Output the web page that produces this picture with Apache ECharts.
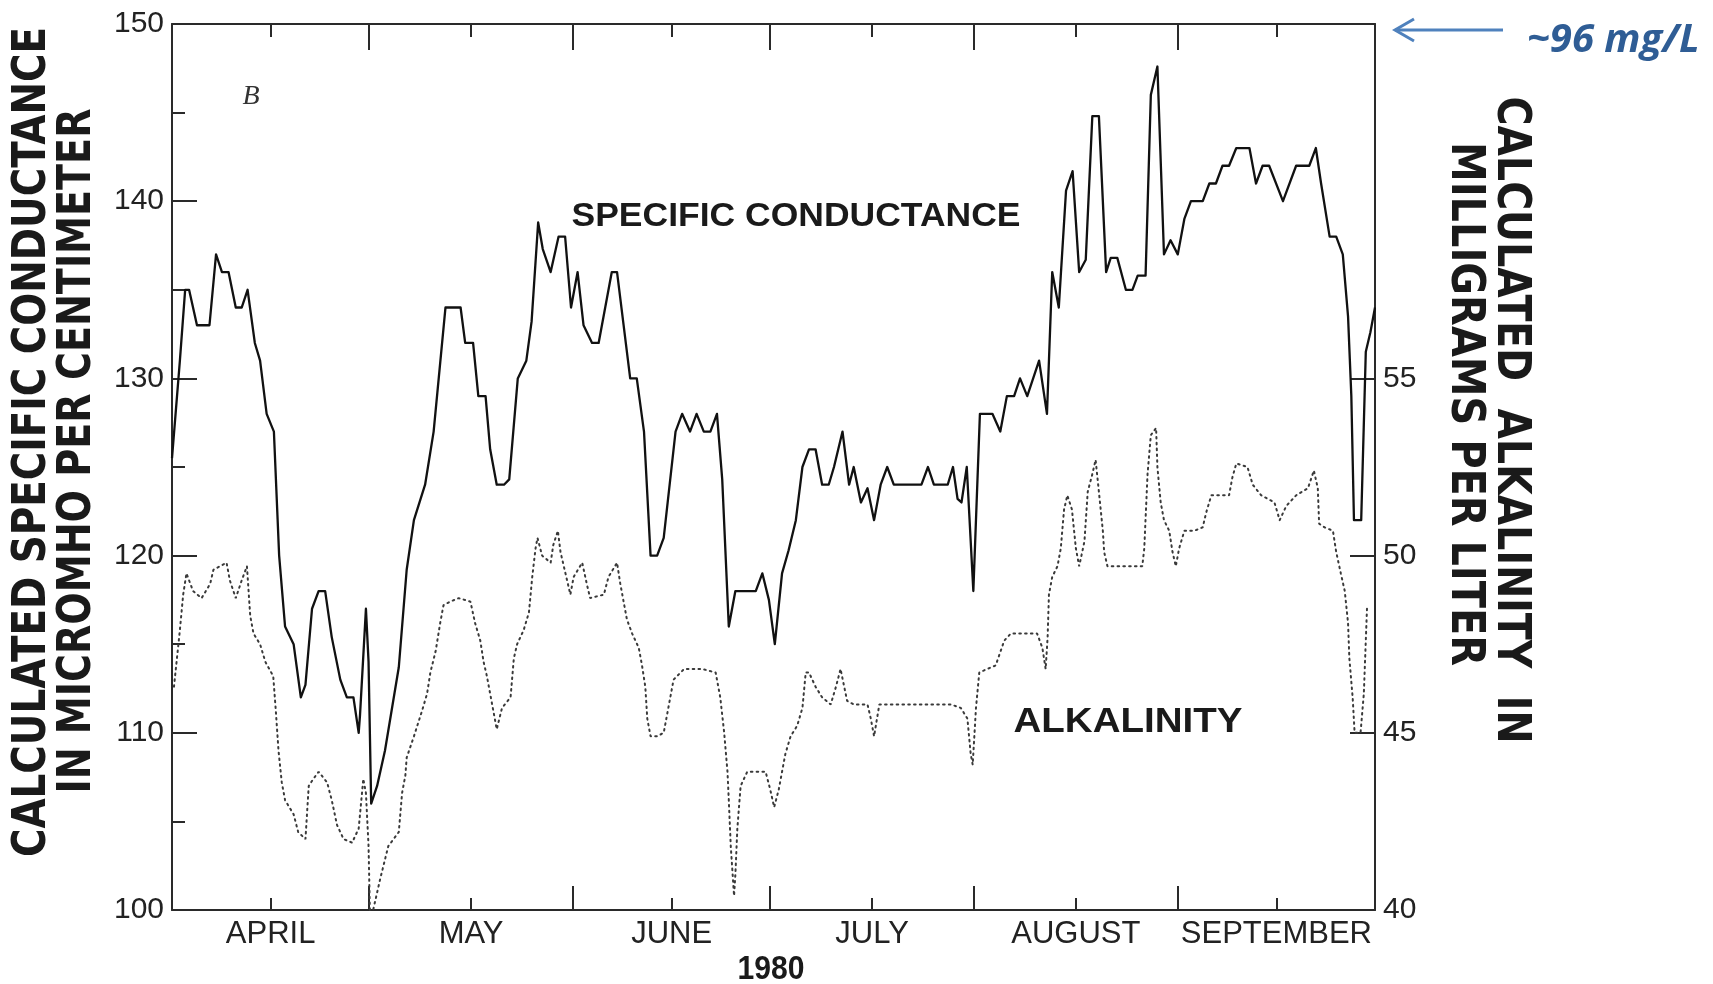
<!DOCTYPE html>
<html>
<head>
<meta charset="utf-8">
<script src="https://cdn.jsdelivr.net/npm/echarts@6/dist/echarts.min.js"></script>
<style>
html,body{margin:0;padding:0;background:#fff;}
#chart{width:1713px;height:984px;}
</style>
</head>
<body>
<div id="chart"></div>
<script>
// x = days since April 1, 1980
const monthNames = ['APRIL', 'MAY', 'JUNE', 'JULY', 'AUGUST', 'SEPTEMBER'];
const monthMid = [15, 45.5, 76, 106.5, 137.5, 168];
const monthBounds = [30, 61, 91, 122, 153];
const leftTicks = [100, 110, 120, 130, 140, 150];
const rightTickLabels = [40, 45, 50, 55];

const condDays = [0, 1.2, 2.0, 2.6, 3.8, 5.7, 6.7, 7.6, 8.6, 9.7, 10.6, 11.5, 12.6, 13.4, 14.4, 15.5, 16.3, 17.2, 18.5, 19.6,
  20.3, 21.3, 22.3, 23.3, 24.3, 25.6, 26.6, 27.6, 28.4, 28.6, 29.5, 29.9, 30.3, 31.2, 32.4, 34.5, 35.7, 36.8, 38.5, 39.8,
  41.6, 43.9, 44.6, 45.8, 46.6, 47.7, 48.4, 49.4, 50.5, 51.3, 52.6, 53.9, 54.7, 55.7, 56.4, 57.6, 58.8, 59.8, 60.7, 61.7,
  62.6, 63.9, 64.9, 66.9, 67.7, 69.7, 70.7, 71.8, 72.8, 73.8, 74.8, 76.6, 77.6, 78.8, 79.8, 80.9, 81.9, 82.9, 83.7, 84.7,
  85.7, 88.8, 89.8, 90.8, 91.7, 92.8, 93.8, 94.9, 95.9, 96.9, 97.9, 98.9, 99.9, 100.7, 102.0, 103.0, 103.7, 104.8, 105.8, 106.8,
  107.8, 108.8, 109.8, 110.9, 114.0, 115.0, 115.9, 118.0, 118.8, 119.5, 120.1, 120.9, 121.9, 122.9, 124.8, 126.0, 127.0, 128.1, 129.0, 130.1,
  131.9, 133.1, 133.9, 134.9, 136.0, 137.0, 138.0, 139.0, 140.0, 141.0, 142.1, 142.8, 143.8, 145.1, 146.1, 146.9, 148.1, 148.9, 149.9, 150.9,
  151.9, 153.0, 154.0, 155.0, 156.8, 157.8, 158.8, 159.8, 160.8, 161.9, 163.9, 164.9, 165.9, 166.9, 169.0, 171.0, 173.0, 174.0, 174.8, 176.1,
  177.1, 178.1, 178.9, 179.4, 179.8, 180.9, 181.6, 182.3, 183];
const condValues = [125.5, 131, 135, 135, 133, 133, 137, 136, 136, 134, 134, 135, 132, 131, 128, 127, 120, 116, 115, 112,
  112.7, 117, 118, 118, 115.4, 113, 112, 112, 110, 111, 117, 114, 106, 107, 109, 113.7, 119.2, 122, 124, 127,
  134, 134, 132, 132, 129, 129, 126, 124, 124, 124.3, 130, 131, 133.2, 138.8, 137.3, 136, 138, 138, 134, 136,
  133, 132, 132, 136, 136, 130, 130, 127, 120, 120, 121, 127, 128, 127, 128, 127, 127, 128, 124.3, 116,
  118, 118, 119, 117.5, 115, 119, 120.3, 122, 125, 126, 126, 124, 124, 125, 127, 124, 125, 123, 123.8, 122,
  124, 125, 124, 124, 124, 125, 124, 124, 125, 123.2, 123, 125, 118, 128, 128, 127, 129, 129, 130, 129,
  131, 128, 136, 134, 140.6, 141.7, 136, 136.7, 144.8, 144.8, 136, 136.8, 136.8, 135, 135, 135.8, 135.8, 146, 147.6, 137,
  137.8, 137, 139, 140, 140, 141, 141, 142, 142, 143, 143, 141, 142, 142, 140, 142, 142, 143, 141, 138,
  138, 137, 133.5, 129, 122, 122, 131.5, 132.6, 134];

const alkDays = [0.3, 1.2, 1.7, 2.2, 3.2, 4.5, 5.8, 6.3, 7.3, 8.3, 8.8, 9.7, 10.6, 11.4, 11.9, 12.4, 13.4, 14.2, 15.4, 15.8,
  16.2, 16.7, 17.2, 18.5, 19.2, 20.3, 20.8, 21.5, 22.3, 23.6, 24.3, 25.1, 26.1, 27.4, 28.4, 29.1, 29.5, 29.9, 30.1, 30.6,
  31.7, 32.9, 34.5, 35.0, 35.5, 35.7, 36.8, 38.0, 38.8, 39.3, 40.1, 40.8, 41.3, 42.3, 43.6, 45.4, 46.1, 46.9, 47.4, 47.9,
  48.4, 48.9, 49.4, 50.2, 51.5, 52.0, 52.5, 53.5, 54.3, 54.8, 55.3, 55.6, 56.3, 57.6, 58.0, 58.7, 59.1, 59.6, 60.6, 61.1,
  62.4, 63.1, 63.6, 65.7, 66.4, 67.7, 68.2, 68.7, 69.2, 70.0, 71.0, 71.5, 72.0, 72.3, 72.8, 73.8, 74.8, 75.3, 75.8, 76.3,
  77.9, 80.7, 82.7, 83.4, 84.0, 84.5, 84.7, 85.0, 85.5, 85.7, 86.0, 86.5, 87.5, 88.8, 90.3, 91.0, 91.6, 92.3, 92.8, 93.3,
  94.1, 95.1, 95.9, 96.4, 96.9, 97.9, 98.9, 100.2, 101.0, 101.7, 102.7, 103.7, 105.8, 106.3, 106.8, 107.6, 110.9, 115.9, 118.5, 120.0,
  121.0, 121.5, 121.8, 122.3, 122.8, 124.0, 125.3, 126.6, 127.6, 131.6, 132.4, 132.9, 133.2, 133.4, 133.9, 134.7, 135.2, 135.7, 136.2, 136.9,
  137.5, 138.0, 138.8, 139.3, 140.0, 140.5, 141.0, 141.6, 141.8, 142.3, 147.6, 147.9, 148.4, 148.9, 149.7, 149.9, 150.4, 150.9, 151.7, 152.2,
  152.7, 153.2, 154.0, 155.5, 156.8, 157.3, 158.1, 160.8, 161.3, 161.9, 163.6, 164.4, 165.7, 167.7, 168.5, 169.5, 171.0, 172.8, 173.7, 174.3,
  174.5, 175.3, 176.6, 177.1, 177.8, 178.4, 178.9, 179.1, 179.6, 179.9, 180.8, 181.3, 181.8];
const alkValues = [46.3, 47.9, 48.9, 49.5, 49.0, 48.8, 49.2, 49.6, 49.7, 49.8, 49.3, 48.8, 49.3, 49.7, 48.3, 47.8, 47.5, 47.0, 46.6, 45.6,
  44.5, 43.6, 43.1, 42.7, 42.2, 42.0, 43.5, 43.7, 43.9, 43.6, 43.1, 42.4, 42.0, 41.9, 42.3, 43.7, 43.3, 41.8, 40.0, 40.0,
  40.9, 41.8, 42.2, 43.3, 43.8, 44.3, 44.9, 45.6, 46.1, 46.7, 47.3, 48.1, 48.6, 48.7, 48.8, 48.7, 48.1, 47.6, 47.0, 46.6,
  46.1, 45.6, 45.1, 45.7, 46.0, 47.1, 47.5, 47.9, 48.4, 49.4, 50.2, 50.5, 50.0, 49.8, 50.3, 50.7, 50.1, 49.7, 48.9, 49.4,
  49.8, 49.2, 48.8, 48.9, 49.4, 49.8, 49.2, 48.7, 48.2, 47.8, 47.4, 46.9, 46.3, 45.4, 44.9, 44.9, 45.0, 45.5, 46.0, 46.5,
  46.8, 46.8, 46.7, 46.0, 45.0, 43.9, 43.1, 41.8, 40.4, 41.0, 42.3, 43.5, 43.9, 43.9, 43.9, 43.4, 42.9, 43.4, 43.9, 44.4,
  44.9, 45.2, 45.7, 46.7, 46.7, 46.3, 46.0, 45.8, 46.3, 46.8, 45.9, 45.8, 45.8, 45.4, 44.9, 45.8, 45.8, 45.8, 45.8, 45.7,
  45.4, 44.4, 44.1, 45.7, 46.7, 46.8, 46.9, 47.6, 47.8, 47.8, 47.4, 46.8, 47.7, 48.9, 49.4, 49.7, 50.2, 51.3, 51.7, 51.3,
  50.2, 49.7, 50.4, 51.8, 52.3, 52.7, 51.8, 50.7, 50.1, 49.7, 49.7, 50.2, 52.3, 53.4, 53.6, 52.5, 51.5, 51.0, 50.7, 50.1,
  49.7, 50.2, 50.7, 50.7, 50.8, 51.2, 51.7, 51.7, 52.2, 52.6, 52.5, 52.0, 51.7, 51.5, 51.0, 51.4, 51.7, 51.9, 52.4, 51.9,
  50.9, 50.8, 50.7, 50.1, 49.5, 49.0, 48.1, 47.1, 46.0, 45.0, 45.0, 46.1, 48.6];

const condData = condDays.map((d, i) => [d, condValues[i]]);
const alkData = alkDays.map((d, i) => [d, alkValues[i]]);

const ink = '#1a1a1a';
const sans = '"Liberation Sans", Arial, sans-serif';
const narrow = '"Liberation Sans Narrow", "DejaVu Sans Condensed", "Liberation Sans", sans-serif';

const measureCtx = document.createElement('canvas').getContext('2d');
function fitScale(text, weight, size, family, target) {
  measureCtx.font = weight + ' ' + size + 'px ' + family;
  const w = measureCtx.measureText(text).width;
  return w > 0 ? target / w : 1;
}
function fitText(text, cx, cy, target, size, weight, family, rotation, extra) {
  const s = fitScale(text, weight, size, family, target);
  return Object.assign({
    type: 'text', x: cx, y: cy, rotation: rotation || 0, scaleX: s, scaleY: 1, z: 100,
    style: { text: text, fontSize: size, fontWeight: weight, fontFamily: family, fill: ink, align: 'center', verticalAlign: 'middle' }
  }, extra || {});
}

const chart = echarts.init(document.getElementById('chart'), null, { renderer: 'canvas' });

function xAxisBase(pos) {
  return { type: 'value', min: 0, max: 183, position: pos, splitLine: { show: false },
    axisLine: { show: false, onZero: false, lineStyle: { color: '#2a2a2a', width: 2 } } };
}

const option = {
  backgroundColor: '#ffffff',
  animation: false,
  grid: { left: 172, right: 338, top: 24, bottom: 74, containLabel: false },
  xAxis: [
    Object.assign(xAxisBase('bottom'), {
      axisLine: { show: true, onZero: false, lineStyle: { color: '#2a2a2a', width: 2 } },
      axisTick: { show: true, inside: true, length: 24, customValues: monthBounds, lineStyle: { color: '#2a2a2a', width: 2 } },
      axisLabel: { show: true, customValues: monthMid, margin: 9, fontSize: 31, fontFamily: sans, color: '#222',
        formatter: function (v) { const i = monthMid.indexOf(v); return i >= 0 ? monthNames[i] : ''; } }
    }),
    Object.assign(xAxisBase('bottom'), {
      axisTick: { show: true, inside: true, length: 12, customValues: monthMid, lineStyle: { color: '#2a2a2a', width: 2 } },
      axisLabel: { show: false }
    }),
    Object.assign(xAxisBase('top'), {
      axisLine: { show: true, onZero: false, lineStyle: { color: '#2a2a2a', width: 2 } },
      axisTick: { show: true, inside: true, length: 26, customValues: monthBounds, lineStyle: { color: '#2a2a2a', width: 2 } },
      axisLabel: { show: false }
    }),
    Object.assign(xAxisBase('top'), {
      axisTick: { show: true, inside: true, length: 13, customValues: monthMid, lineStyle: { color: '#2a2a2a', width: 2 } },
      axisLabel: { show: false }
    })
  ],
  yAxis: [
    { type: 'value', min: 100, max: 150, interval: 10, position: 'left', splitLine: { show: false },
      axisLine: { show: true, onZero: false, lineStyle: { color: '#2a2a2a', width: 2 } },
      axisTick: { show: true, inside: true, length: 25, lineStyle: { color: '#2a2a2a', width: 2 } },
      minorTick: { show: true, splitNumber: 2, length: 13, lineStyle: { color: '#2a2a2a', width: 2 } },
      axisLabel: { show: true, margin: 8, fontSize: 30, fontFamily: sans, color: '#222',
        formatter: function (v) { return leftTicks.indexOf(v) >= 0 ? String(v) : ''; } } },
    { type: 'value', min: 40, max: 65, interval: 5, position: 'right', splitLine: { show: false },
      axisLine: { show: true, onZero: false, lineStyle: { color: '#2a2a2a', width: 2 } },
      axisTick: { show: true, inside: true, length: 25, customValues: [45, 50, 55], lineStyle: { color: '#2a2a2a', width: 2 } },
      axisLabel: { show: true, margin: 8, fontSize: 30, fontFamily: sans, color: '#222',
        formatter: function (v) { return rightTickLabels.indexOf(v) >= 0 ? String(v) : ''; } } }
  ],
  series: [
    { name: 'SPECIFIC CONDUCTANCE', type: 'line', xAxisIndex: 0, yAxisIndex: 0, data: condData,
      showSymbol: false, symbol: 'none', smooth: false, clip: false,
      lineStyle: { color: '#111', width: 2.3, join: 'round' } },
    { name: 'ALKALINITY', type: 'line', xAxisIndex: 0, yAxisIndex: 1, data: alkData,
      showSymbol: false, symbol: 'none', smooth: false, clip: false,
      lineStyle: { color: '#3a3a3a', width: 2, type: [1.6, 4.2], cap: 'round' } }
  ],
  graphic: [
    fitText('CALCULATED SPECIFIC CONDUCTANCE', 33, 442, 830, 46, 'bold', narrow, Math.PI / 2),
    fitText('IN MICROMHO PER CENTIMETER', 78, 451, 685, 46, 'bold', narrow, Math.PI / 2),
    fitText('CALCULATED  ALKALINITY  IN', 1510, 420, 647, 46, 'bold', narrow, -Math.PI / 2),
    fitText('MILLIGRAMS PER LITER', 1464, 404, 524, 46, 'bold', narrow, -Math.PI / 2),
    fitText('SPECIFIC CONDUCTANCE', 796, 217, 449, 34, 'bold', sans, 0),
    fitText('ALKALINITY', 1128, 722, 229, 35, 'bold', sans, 0),
    fitText('1980', 771, 970, 67, 34, 'bold', sans, 0),
    { type: 'text', x: 251, y: 97, z: 100,
      style: { text: 'B', fontSize: 28, fontStyle: 'italic', fontFamily: '"Liberation Serif", "DejaVu Serif", serif',
        fill: '#333', align: 'center', verticalAlign: 'middle' } },
    { type: 'line', z: 100, shape: { x1: 1503, y1: 30, x2: 1395, y2: 30 },
      style: { stroke: '#4F81BD', lineWidth: 3 } },
    { type: 'polyline', z: 100, shape: { points: [[1414, 19], [1395, 30], [1414, 41]] },
      style: { stroke: '#4F81BD', lineWidth: 3, fill: null } },
    { type: 'text', x: 1527, y: 41, z: 100,
      style: { text: '~96 mg/L', fontSize: 40, fontWeight: 'bold', fontStyle: 'italic', fontFamily: '"Open Sans", "Noto Sans", sans-serif',
        fill: '#2F5D95', align: 'left', verticalAlign: 'middle' } }
  ]
};

chart.setOption(option);
</script>
</body>
</html>
